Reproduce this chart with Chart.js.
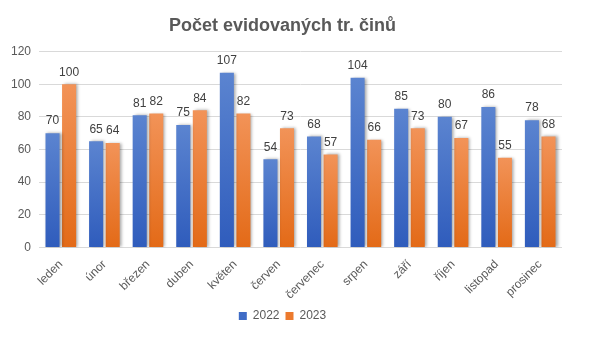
<!DOCTYPE html>
<html lang="cs">
<head>
<meta charset="utf-8" />
<title>Počet evidovaných tr. činů</title>
<script src="https://cdn.jsdelivr.net/npm/chart.js@4.4.0/dist/chart.umd.min.js"></script>
<style>
  body { margin: 0; background: #fff; }
</style>
</head>
<body>
<canvas id="myChart" width="610" height="350"></canvas>
<script>
var months = ["leden", "únor", "březen", "duben", "květen", "červen", "červenec", "srpen", "září", "říjen", "listopad", "prosinec"];
var values2022 = [70, 65, 81, 75, 107, 54, 68, 104, 85, 80, 86, 78];
var values2023 = [100, 64, 82, 84, 82, 73, 57, 66, 73, 67, 55, 68];
var yTicks = [0, 20, 40, 60, 80, 100, 120];

var FONT = "'Liberation Sans', Arial, sans-serif";

// gradient for each bar, light at top, darker at bottom
function barGradient(top, bottom) {
    return function (context) {
        var chart = context.chart;
        var yScale = chart.scales.y;
        if (!chart.chartArea || !yScale || context.raw === undefined) return bottom;
        var yTop = yScale.getPixelForValue(context.raw);
        var yBase = yScale.getPixelForValue(0);
        var g = chart.ctx.createLinearGradient(0, yTop, 0, yBase);
        g.addColorStop(0, top);
        g.addColorStop(1, bottom);
        return g;
    };
}

// shadow under bars + value labels above them
var barExtras = {
    id: 'barExtras',
    beforeDatasetDraw: function (chart) {
        var ctx = chart.ctx;
        ctx.save();
        ctx.shadowColor = 'rgba(0,0,0,0.35)';
        ctx.shadowOffsetX = 2;
        ctx.shadowOffsetY = 0;
        ctx.shadowBlur = 3;
    },
    afterDatasetDraw: function (chart) {
        chart.ctx.restore();
    },
    afterDatasetsDraw: function (chart) {
        var ctx = chart.ctx;
        ctx.save();
        ctx.font = '12px ' + FONT;
        ctx.fillStyle = '#404040';
        ctx.textAlign = 'center';
        ctx.textBaseline = 'bottom';
        chart.data.datasets.forEach(function (ds, i) {
            chart.getDatasetMeta(i).data.forEach(function (bar, j) {
                ctx.fillText(ds.data[j], bar.x, bar.y - 6);
            });
        });
        ctx.restore();
    }
};

var ctx = document.getElementById("myChart").getContext("2d");
var myChart = new Chart(ctx, {
    type: 'bar',
    data: {
        labels: months,
        datasets: [{
            label: '2022',
            data: values2022,
            backgroundColor: barGradient('#5b84d0', '#2f5cbc'),
            categoryPercentage: 0.76,
            barPercentage: 0.85
        }, {
            label: '2023',
            data: values2023,
            backgroundColor: barGradient('#f29358', '#e36a17'),
            categoryPercentage: 0.76,
            barPercentage: 0.85
        }]
    },
    options: {
        responsive: false,
        animation: false,
        layout: { padding: { left: 3, right: 48, top: 11, bottom: 18 } },
        plugins: {
            title: {
                display: true,
                text: 'Počet evidovaných tr. činů',
                color: '#595959',
                font: { family: FONT, size: 18, weight: 'bold' },
                padding: { top: 4, bottom: 15 }
            },
            legend: {
                position: 'bottom',
                labels: {
                    color: '#595959',
                    font: { family: FONT, size: 12 },
                    boxWidth: 8,
                    boxHeight: 8,
                    padding: 6,
                    generateLabels: function (chart) {
                        var cols = ['#3f6cc6', '#ec7a2e'];
                        return chart.data.datasets.map(function (ds, i) {
                            return {
                                text: ds.label,
                                fillStyle: cols[i],
                                strokeStyle: cols[i],
                                lineWidth: 0,
                                fontColor: '#595959',
                                datasetIndex: i
                            };
                        });
                    }
                }
            },
            tooltip: { enabled: false }
        },
        scales: {
            x: {
                grid: { display: false },
                border: { display: false },
                ticks: {
                    color: '#595959',
                    font: { family: FONT, size: 12 },
                    maxRotation: 45,
                    minRotation: 45,
                    padding: 2
                }
            },
            y: {
                min: 0,
                max: 120,
                afterBuildTicks: function (axis) {
                    axis.ticks = yTicks.map(function (v) { return { value: v }; });
                },
                grid: { color: '#d9d9d9', drawTicks: false },
                border: { display: false },
                ticks: {
                    color: '#595959',
                    font: { family: FONT, size: 12 },
                    padding: 8
                }
            }
        }
    },
    plugins: [barExtras]
});
</script>
</body>
</html>
